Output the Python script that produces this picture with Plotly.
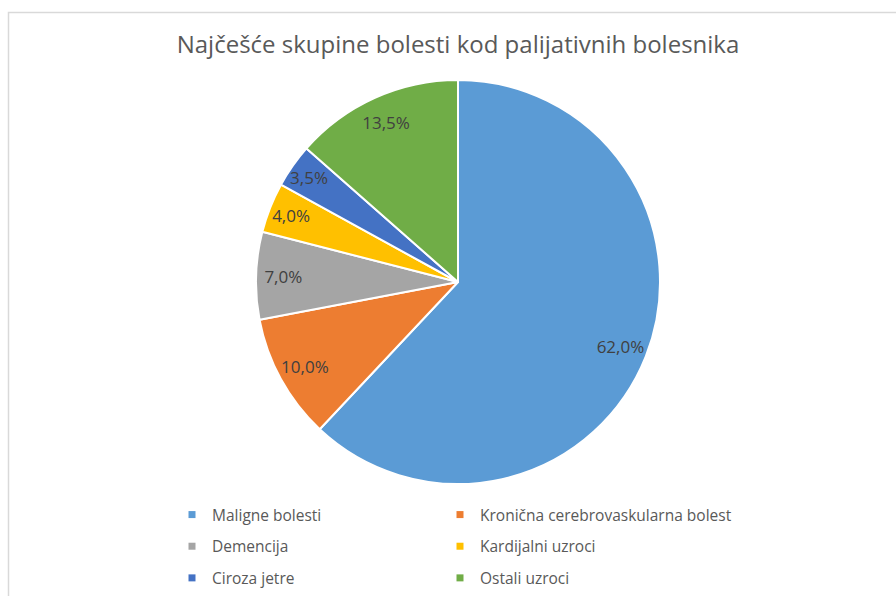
import plotly.graph_objects as go

categories = ["Maligne bolesti", "Kronična cerebrovaskularna bolest", "Demencija",
              "Kardijalni uzroci", "Ciroza jetre", "Ostali uzroci"]
values = [62.0, 10.0, 7.0, 4.0, 3.5, 13.5]
colors = ["#5B9BD5", "#ED7D31", "#A5A5A5", "#FFC000", "#4472C4", "#70AD47"]
title_text = "Najčešće skupine bolesti kod palijativnih bolesnika"

FONT = "Open Sans"
W, H = 896, 596
ML, MR = 98, 98
PW = W - ML - MR


def px_x(x):
    return (x - ML) / PW


def px_y(y):
    return 1 - y / H


pie_domain = dict(x=[px_x(256), px_x(660)], y=[px_y(484), px_y(80)])

fig = go.Figure()
# the slices
fig.add_trace(go.Pie(
    labels=categories, values=values,
    marker=dict(colors=colors, line=dict(color="white", width=2)),
    sort=False, direction="clockwise", rotation=0,
    textinfo="none", showlegend=False, hoverinfo="label+percent",
    domain=pie_domain,
))
# transparent ring carrying the data labels (places them near the outer edge)
fig.add_trace(go.Pie(
    labels=categories, values=values,
    marker=dict(colors=["rgba(0,0,0,0)"] * len(values), line=dict(width=0)),
    sort=False, direction="clockwise", rotation=0, hole=0.73,
    texttemplate="%{percent:.1%}",
    textposition="inside", insidetextorientation="horizontal",
    textfont=dict(family=FONT, size=17, color="#404040"),
    showlegend=False, hoverinfo="skip",
    domain=pie_domain,
))

# legend entries (two columns)
for i, (cat, col) in enumerate(zip(categories, colors)):
    fig.add_trace(go.Scatter(
        x=[None], y=[None], mode="markers", name=cat,
        marker=dict(symbol="square", size=7, color=col),
        legend="legend" if i % 2 == 0 else "legend2",
        legendgroup=cat, showlegend=True, hoverinfo="skip",
    ))

leg_common = dict(
    orientation="v", yanchor="top", xanchor="left",
    font=dict(family=FONT, size=15.5, color="#595959"),
    tracegroupgap=8.5, bgcolor="rgba(0,0,0,0)", itemclick=False, itemdoubleclick=False,
)
fig.update_layout(
    width=W, height=H,
    margin=dict(l=ML, r=MR, t=0, b=0),
    paper_bgcolor="white", plot_bgcolor="white",
    separators=",.",
    uniformtext=dict(mode="show", minsize=17),
    title=dict(text=title_text, x=458 / W, xanchor="center", y=1 - 45 / H, yanchor="middle",
               xref="container", yref="container",
               font=dict(family=FONT, size=24, color="#595959")),
    xaxis=dict(visible=False), yaxis=dict(visible=False),
    legend=dict(x=px_x(172), y=px_y(498), **leg_common),
    legend2=dict(x=px_x(440), y=px_y(498), **leg_common),
    shapes=[dict(type="rect", xref="paper", yref="paper",
                 x0=px_x(8.5), x1=px_x(905), y0=px_y(605), y1=px_y(12.5),
                 line=dict(color="#D9D9D9", width=1.5), fillcolor="rgba(0,0,0,0)", layer="below")],
)
fig.write_html("out.html", config={"displayModeBar": False},
               post_script="document.body.style.margin='0px';document.body.style.overflow='hidden';")
